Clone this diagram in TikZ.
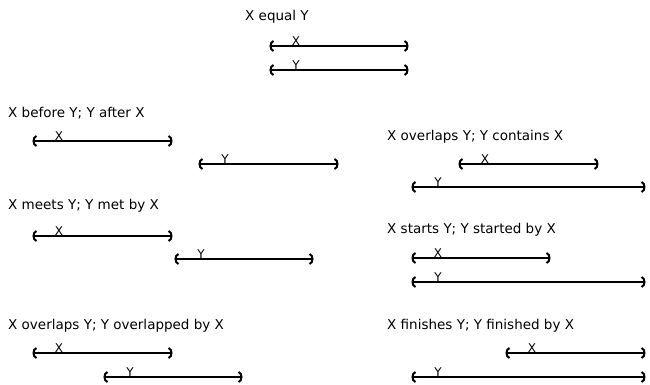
\documentclass[tikz,border=0pt]{standalone}
\usepackage{fontspec}
\setmainfont{DejaVu Sans}

\begin{document}
\begin{tikzpicture}[x=1pt,y=-1pt,
    title/.style={anchor=west,inner sep=0pt,font=\fontsize{13.5}{15}\selectfont},
    tag/.style={anchor=south,inner sep=0pt,font=\fontsize{12}{14}\selectfont},
    span/.style={line width=1.6pt},
    lbr/.pic={\draw[line width=2pt] (3.5,-5) .. controls (-0.5,-4) and (-0.5,4) .. (3.5,5);},
    rbr/.pic={\draw[line width=2pt] (-3.5,-5) .. controls (0.5,-4) and (0.5,4) .. (-3.5,5);}]
  \useasboundingbox (0,0) rectangle (650,385);
  % X equal Y
  \node[title] (eqt) at (245,17) {X equal Y};
  \coordinate (eqxa) at (270,46); \coordinate (eqxb) at (408,46);
  \coordinate (eqya) at (270,70); \coordinate (eqyb) at (408,70);
  \draw[span] (eqxa) pic {lbr} -- (eqxb) pic {rbr};
  \draw[span] (eqya) pic {lbr} -- (eqyb) pic {rbr};
  \node[tag] (eqx) at ([xshift=26pt]eqxa) {X};
  \node[tag] (eqy) at ([xshift=26pt]eqya) {Y};
  % X before Y
  \node[title] (beft) at (8,113) {X before Y; Y after X};
  \coordinate (befxa) at (33,141); \coordinate (befxb) at (172,141);
  \coordinate (befya) at (199,164); \coordinate (befyb) at (338,164);
  \draw[span] (befxa) pic {lbr} -- (befxb) pic {rbr};
  \draw[span] (befya) pic {lbr} -- (befyb) pic {rbr};
  \node[tag] (befx) at ([xshift=26pt]befxa) {X};
  \node[tag] (befy) at ([xshift=26pt]befya) {Y};
  % X overlaps Y, contains
  \node[title] (cont) at (387,137) {X overlaps Y; Y contains X};
  \coordinate (conxa) at (459,164); \coordinate (conxb) at (598,164);
  \coordinate (conya) at (412,187); \coordinate (conyb) at (645,187);
  \draw[span] (conxa) pic {lbr} -- (conxb) pic {rbr};
  \draw[span] (conya) pic {lbr} -- (conyb) pic {rbr};
  \node[tag] (conx) at ([xshift=26pt]conxa) {X};
  \node[tag] (cony) at ([xshift=26pt]conya) {Y};
  % X meets Y
  \node[title] (meett) at (8,206) {X meets Y; Y met by X};
  \coordinate (meetxa) at (33,236); \coordinate (meetxb) at (172,236);
  \coordinate (meetya) at (175,259); \coordinate (meetyb) at (313,259);
  \draw[span] (meetxa) pic {lbr} -- (meetxb) pic {rbr};
  \draw[span] (meetya) pic {lbr} -- (meetyb) pic {rbr};
  \node[tag] (meetx) at ([xshift=26pt]meetxa) {X};
  \node[tag] (meety) at ([xshift=26pt]meetya) {Y};
  % X starts Y
  \node[title] (stt) at (387,230) {X starts Y; Y started by X};
  \coordinate (stxa) at (412,258); \coordinate (stxb) at (550,258);
  \coordinate (stya) at (412,282); \coordinate (styb) at (645,282);
  \draw[span] (stxa) pic {lbr} -- (stxb) pic {rbr};
  \draw[span] (stya) pic {lbr} -- (styb) pic {rbr};
  \node[tag] (stx) at ([xshift=26pt]stxa) {X};
  \node[tag] (sty) at ([xshift=26pt]stya) {Y};
  % X overlaps Y, overlapped by
  \node[title] (olapt) at (8,326) {X overlaps Y; Y overlapped by X};
  \coordinate (olapxa) at (33,353); \coordinate (olapxb) at (172,353);
  \coordinate (olapya) at (104,377); \coordinate (olapyb) at (242,377);
  \draw[span] (olapxa) pic {lbr} -- (olapxb) pic {rbr};
  \draw[span] (olapya) pic {lbr} -- (olapyb) pic {rbr};
  \node[tag] (olapx) at ([xshift=26pt]olapxa) {X};
  \node[tag] (olapy) at ([xshift=26pt]olapya) {Y};
  % X finishes Y
  \node[title] (fint) at (387,326) {X finishes Y; Y finished by X};
  \coordinate (finxa) at (506,353); \coordinate (finxb) at (645,353);
  \coordinate (finya) at (412,377); \coordinate (finyb) at (645,377);
  \draw[span] (finxa) pic {lbr} -- (finxb) pic {rbr};
  \draw[span] (finya) pic {lbr} -- (finyb) pic {rbr};
  \node[tag] (finx) at ([xshift=26pt]finxa) {X};
  \node[tag] (finy) at ([xshift=26pt]finya) {Y};
\end{tikzpicture}
\end{document}
